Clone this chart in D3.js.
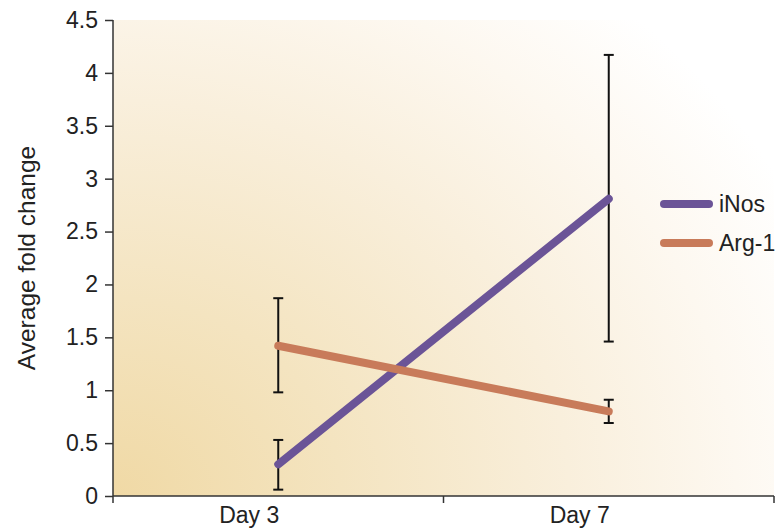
<!DOCTYPE html>
<html>
<head>
<meta charset="utf-8">
<script src="https://cdn.jsdelivr.net/npm/d3@7"></script>
<style>
  html, body { margin: 0; padding: 0; background: #ffffff; }
  svg { display: block; }
  text { font-family: "Liberation Sans", Arial, Helvetica, sans-serif; fill: #222; }
</style>
</head>
<body>
<svg id="chart" width="780" height="531"></svg>
<script>
// ---- data ----
const days = ["Day 3", "Day 7"];
const seriesNames = ["iNos", "Arg-1"];
const iNosMean = [0.30, 2.81];
const iNosLow  = [0.06, 1.46];
const iNosHigh = [0.53, 4.17];
const argMean  = [1.42, 0.80];
const argLow   = [0.98, 0.69];
const argHigh  = [1.87, 0.91];
const yTicks = [0, 0.5, 1, 1.5, 2, 2.5, 3, 3.5, 4, 4.5];
const yTitle = "Average fold change";
const colors = { "iNos": "#6b5497", "Arg-1": "#c87b5a" };

const series = [
  { name: "iNos",  mean: iNosMean, low: iNosLow, high: iNosHigh },
  { name: "Arg-1", mean: argMean,  low: argLow,  high: argHigh }
];

// ---- layout ----
const mLeft = 113, mRight = 774, mTop = 20, mBottom = 496;
const svg = d3.select("#chart");

const x = d3.scaleBand().domain(days).range([mLeft, mRight]).paddingInner(0).paddingOuter(0);
const y = d3.scaleLinear().domain([0, 4.5]).range([mBottom, mTop]);
const cx = d => x(d) + x.bandwidth() / 2;

// background: radial glow from the bottom-left corner
const defs = svg.append("defs");
const grad = defs.append("radialGradient").attr("id", "bg")
  .attr("gradientUnits", "userSpaceOnUse")
  .attr("cx", 0).attr("cy", 0).attr("r", 1)
  .attr("gradientTransform", `translate(${mLeft},${mBottom}) scale(760,660)`);
grad.append("stop").attr("offset", "0").attr("stop-color", "#f0d9a5");
grad.append("stop").attr("offset", "0.3").attr("stop-color", "#f4e4c0");
grad.append("stop").attr("offset", "0.6").attr("stop-color", "#f9efdc");
grad.append("stop").attr("offset", "0.82").attr("stop-color", "#fdf8f0");
grad.append("stop").attr("offset", "1").attr("stop-color", "#ffffff");
svg.append("rect")
  .attr("x", mLeft).attr("y", mTop)
  .attr("width", mRight - mLeft).attr("height", mBottom - mTop)
  .attr("fill", "url(#bg)");

// y axis
const yAxis = svg.append("g")
  .attr("transform", `translate(${mLeft},0)`)
  .call(d3.axisLeft(y).tickValues(yTicks).tickSize(8).tickPadding(7)
    .tickFormat(d => String(d)));
yAxis.select(".domain").attr("stroke", "#333").attr("stroke-width", 1.5)
  .attr("d", `M0,${mTop}V${mBottom + 7}`);
yAxis.selectAll(".tick line").attr("stroke", "#333").attr("stroke-width", 1.5);
yAxis.selectAll(".tick text").attr("font-size", 23).attr("fill", "#222")
  .style("font-family", '"Liberation Sans", Arial, sans-serif');

// x axis: line with ticks at band boundaries, labels near band centres
const xg = svg.append("g");
xg.append("line").attr("x1", mLeft).attr("x2", mRight).attr("y1", mBottom).attr("y2", mBottom)
  .attr("stroke", "#333").attr("stroke-width", 1.5);
const bounds = days.map(d => x(d)).concat([x(days[days.length - 1]) + x.bandwidth()]);
xg.selectAll("line.xt").data(bounds.slice(1)).enter().append("line")
  .attr("class", "xt")
  .attr("x1", d => d).attr("x2", d => d)
  .attr("y1", mBottom).attr("y2", mBottom + 7)
  .attr("stroke", "#333").attr("stroke-width", 1.5);
xg.selectAll("text.xl").data(days).enter().append("text")
  .attr("class", "xl")
  .attr("x", d => cx(d) + 1)
  .attr("y", 523)
  .attr("text-anchor", "end")
  .attr("font-size", 23)
  .text(d => d);

// y title
svg.append("text")
  .attr("transform", `translate(35,${(mTop + mBottom) / 2}) rotate(-90)`)
  .attr("text-anchor", "middle")
  .attr("font-size", 24.5)
  .text(yTitle);

// error bars
const capW = 5;
series.forEach(s => {
  const g = svg.append("g");
  days.forEach((d, i) => {
    const px = cx(d);
    g.append("line").attr("x1", px).attr("x2", px)
      .attr("y1", y(s.low[i])).attr("y2", y(s.high[i]))
      .attr("stroke", "#111").attr("stroke-width", 2);
    [s.low[i], s.high[i]].forEach(v => {
      g.append("line").attr("x1", px - capW).attr("x2", px + capW)
        .attr("y1", y(v)).attr("y2", y(v))
        .attr("stroke", "#111").attr("stroke-width", 2);
    });
  });
});

// lines
const line = d3.line().x((v, i) => cx(days[i])).y(v => y(v));
series.forEach(s => {
  svg.append("path")
    .datum(s.mean)
    .attr("d", line)
    .attr("fill", "none")
    .attr("stroke", colors[s.name])
    .attr("stroke-width", 8)
    .attr("stroke-linecap", "round");
});

// legend
const legY = [204, 243];
seriesNames.forEach((n, i) => {
  svg.append("line")
    .attr("x1", 664).attr("x2", 709)
    .attr("y1", legY[i]).attr("y2", legY[i])
    .attr("stroke", colors[n]).attr("stroke-width", 8)
    .attr("stroke-linecap", "round");
  svg.append("text")
    .attr("x", 719).attr("y", legY[i])
    .attr("dy", "0.36em")
    .attr("font-size", 23)
    .text(n);
});
</script>
</body>
</html>
